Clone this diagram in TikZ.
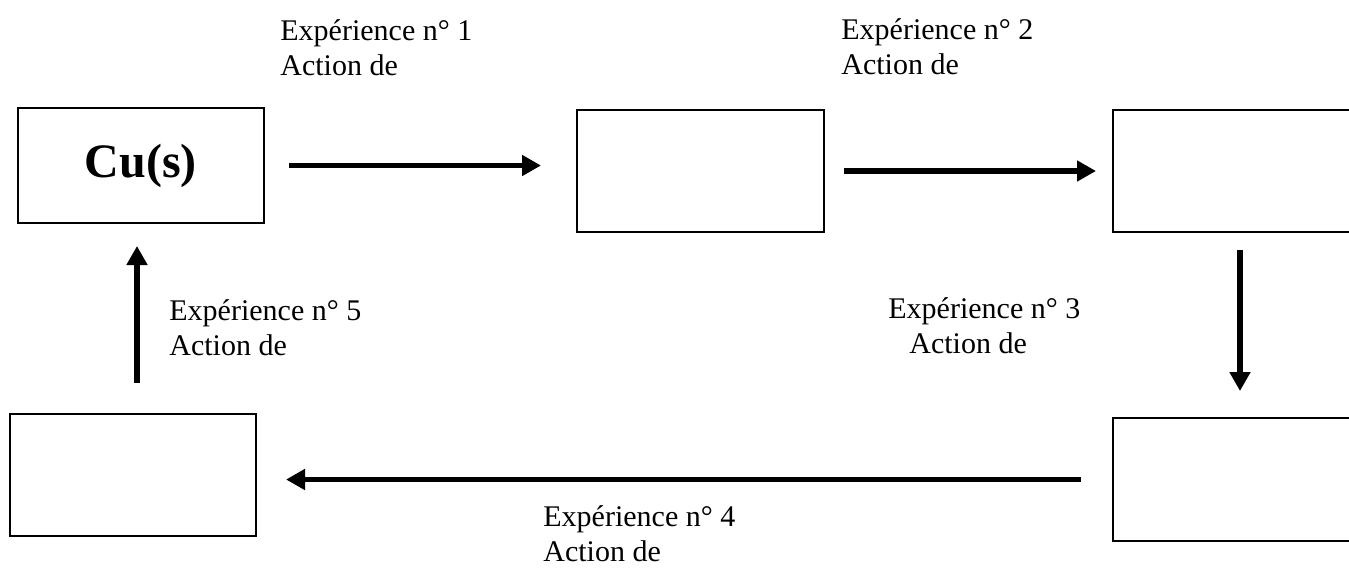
\documentclass[tikz,border=0pt]{standalone}
\usepackage{fontspec}
\setmainfont{Liberation Serif}
\usetikzlibrary{arrows.meta,positioning}

\newcommand\palfont{\fontsize{15}{17.5}\selectfont}
\newcommand\cufont{\bfseries\fontsize{24}{28}\selectfont}

\tikzset{
  etat/.style={draw,line width=1pt,inner sep=0pt},
  flow/.style={line width=2.75pt,-{Triangle[length=9.5pt,width=10pt]}},
  legende/.style={align=left,anchor=north west,inner sep=0pt,font=\palfont},
}

\begin{document}
\begin{tikzpicture}[x=0.5pt,y=-0.5pt]
\path[use as bounding box,clip] (0,0) rectangle (1349,569);
% boxes
\node[etat,minimum width=123pt,minimum height=57.5pt,font=\cufont] (cu) at (141,165.5) {Cu(s)};
\node[etat,minimum width=123.5pt,minimum height=61pt] (b2) at (700.5,171) {};
\node[etat,minimum width=123.5pt,minimum height=61pt] (b3) at (1236.5,171) {};
\node[etat,minimum width=123.5pt,minimum height=61.5pt] (b4) at (1236.5,479.5) {};
\node[etat,minimum width=123pt,minimum height=61pt] (b5) at (133,475) {};
% labels
\node[legende] (l1) at (280,19) {Expérience n° 1\\Action de};
\node[legende] (l2) at (841,18) {Expérience n° 2\\Action de};
\node[legende] (l3) at (888,297) {Expérience n° 3\\\hspace*{10.5pt}Action de};
\node[legende] (l4) at (543,505) {Expérience n° 4\\Action de};
\node[legende] (l5) at (169,299) {Expérience n° 5\\Action de};
% arrows
\draw[flow] ([xshift=12pt]cu.east) -- ([xshift=-17.5pt]cu.east -| b2.west);
\draw[flow] ([xshift=9.5pt]b2.east) -- ([xshift=-8pt]b3.west);
\draw[flow] ([xshift=1.75pt,yshift=-8.5pt]b3.south) -- ([xshift=1.75pt,yshift=13pt]b3.south |- b4.north);
\draw[flow] ([xshift=-15.5pt]b4.west) -- ([xshift=14.5pt]b4.west -| b5.east);
\draw[flow] ([xshift=2pt,yshift=15pt]b5.north) -- ([xshift=2pt,yshift=-11pt]b5.north |- cu.south);
\end{tikzpicture}
\end{document}
